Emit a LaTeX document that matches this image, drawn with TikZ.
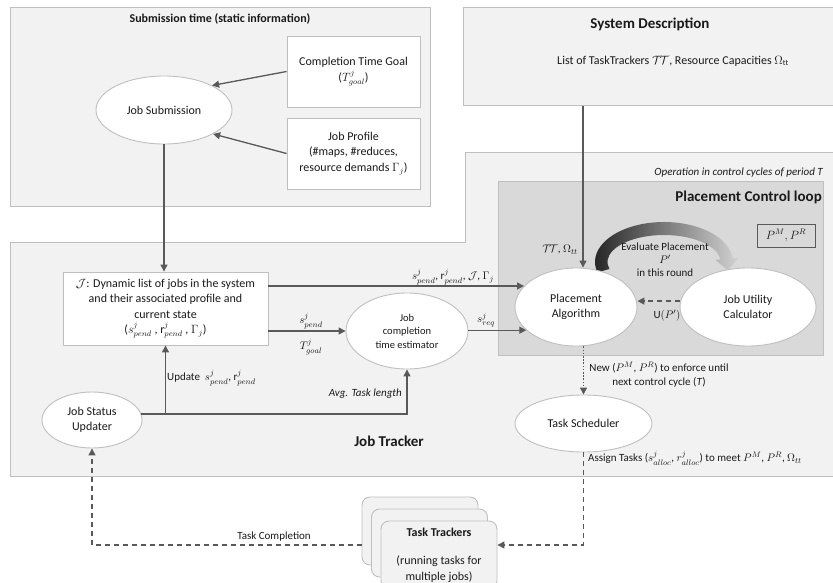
\documentclass[tikz,border=0pt]{standalone}
\usepackage{fontspec}
\setmainfont{Carlito}
\usetikzlibrary{arrows.meta,shapes.geometric,calc}
\definecolor{regfill}{HTML}{F2F2F2}
\definecolor{regline}{HTML}{BFBFBF}
\definecolor{loopfill}{HTML}{D9D9D9}
\definecolor{arrcol}{HTML}{595959}
\definecolor{txt}{HTML}{1A1A1A}
\newcommand\normtext{\fontsize{12}{15.5}\selectfont}
\newcommand\smalltext{\fontsize{11}{13.5}\selectfont}
\newcommand\headtext{\fontsize{15}{18}\selectfont\bfseries}
\begin{document}
\begin{tikzpicture}[x=1pt,y=-1pt,
  region/.style={fill=regfill, draw=regline, line width=1pt},
  ell/.style={ellipse, fill=white, draw=regline, line width=0.9pt, inner sep=0pt, align=center, font=\normtext, text=txt},
  wbox/.style={rectangle, fill=white, draw=regline, line width=0.9pt, inner sep=0pt, align=center, font=\normtext, text=txt},
  ttbox/.style={rectangle, rounded corners=8pt, fill=regfill, draw=regline, line width=0.9pt, minimum width=116pt, minimum height=68pt, inner sep=0pt},
  arr/.style={draw=arrcol, line width=1.3pt, -{Triangle[length=7pt,width=7pt]}},
  dashedarr/.style={arr, dash pattern=on 5pt off 4pt},
  dottedarr/.style={arr, dash pattern=on 1.6pt off 1.6pt},
  lbl/.style={inner sep=0pt, font=\smalltext, text=txt, align=center},
  nlbl/.style={inner sep=0pt, font=\normtext, text=txt, align=center},
  head/.style={inner sep=0pt, font=\headtext, text=txt}]
\clip (0,0) rectangle (833,583);
\fill[white] (0,0) rectangle (833,583);

% regions
\draw[region] (10,8) rectangle (430,206);
\draw[region] (463,8) rectangle (845,106);
\draw[region] (10,242) -- (465,242) -- (465,153) -- (845,153) -- (845,476) -- (10,476) -- cycle;
\draw[fill=loopfill, draw=regline, line width=1pt] (498,182) rectangle (823,355);

% curved gradient arrow
\shade[left color=black!88, right color=black!18]
  (597.35,272.35) arc[start angle=165, end angle=355, x radius=69, y radius=40]
  -- (737.9,258.3) -- (728,270.5) -- (715.3,259.8) -- (720.28,259.65)
  arc[start angle=355, end angle=165, x radius=56.5, y radius=27] -- cycle;

% nodes
\node[ell, minimum width=136pt, minimum height=68pt] (JS) at (164,110) {Job Submission};
\node[wbox, minimum width=133pt, minimum height=71pt] (CTG) at (353.5,71.5) {Completion Time Goal\\($T^j_{goal}$)};
\node[wbox, minimum width=133pt, minimum height=71pt] (JP) at (353.5,153.5) {Job Profile\\(\#maps, \#reduces,\\resource demands $\Gamma_j$)};
\node[wbox, minimum width=205pt, minimum height=73pt] (JB) at (165.5,308.5)
  {$\mathcal{J}$: Dynamic list of jobs in the system\\and their associated profile and\\current state\\($s^j_{pend}$ , $\mathrm{r}^j_{pend}$ , $\Gamma_j$)};
\node[ell, minimum width=122pt, minimum height=76pt, font=\fontsize{10.5}{13.5}\selectfont] (EST) at (407,331) {Job\\completion\\time estimator};
\node[ell, minimum width=100pt, minimum height=56pt] (JSU) at (92,420) {Job Status\\Updater};
\node[ell, minimum width=122pt, minimum height=78pt] (PA) at (576,307) {Placement\\Algorithm};
\node[ell, minimum width=136pt, minimum height=78pt] (JUC) at (748,307) {Job Utility\\Calculator};
\node[ell, minimum width=137pt, minimum height=57pt] (TS) at (583.5,423.5) {Task Scheduler};
\node[rectangle, draw=arrcol, line width=0.9pt, minimum width=58pt, minimum height=23pt, inner sep=0pt, text=txt, font=\normtext] (PM) at (786,235.5) {$P^M, P^R$};
\node[ttbox] (TT1) at (420,531) {};
\node[ttbox] (TT2) at (429.5,543) {};
\node[ttbox, align=center, font=\normtext, text=txt] (TT3) at (439,555) {\textbf{Task Trackers}\\[13pt](running tasks for\\multiple jobs)};

% titles
\node[nlbl, font=\normtext\bfseries] (subtitle) at (220,19) {Submission time (static information)};
\node[head] (sdtitle) at (650,24) {System Description};
\node[nlbl] (sdtext) at (673,61) {List of TaskTrackers $\mathcal{T\!T}$, Resource Capacities $\Omega_{\mathrm{tt}}$};
\node[lbl, anchor=east, font=\smalltext\itshape] (optext) at (823,173) {Operation in control cycles of period T};
\node[head, anchor=east] (pcltitle) at (822,197) {Placement Control loop};
\node[head] (jttitle) at (389,441) {Job Tracker};

% connectors
\coordinate (sdout) at (583,106);
\coordinate (tcy) at (0,545);
\draw[arr] (CTG.west) -- (JS.27);
\draw[arr] (JP.west) -- (JS.-26);
\draw[arr] (JS.south) -- (JS.south |- JB.north);
\draw[arr] (sdout) -- (sdout |- PA.north);
\draw[arr] (JB.east |- PA.158) -- (PA.158);
\draw[arr] (JB.east |- EST.west) -- (EST.west);
\draw[arr] (EST.east |- PA.205) -- (PA.205);
\draw[dashedarr] (JUC.175) -- (JUC.175 -| PA.east);
\draw[arr] (JSU.7) -| (EST.south);
\draw[arr] (JB.south |- JSU.7) -- (JB.south);
\draw[dottedarr] (TS.north |- PA.south) -- (TS.north);
\draw[dashedarr] (TS.south) |- (TT3.east |- tcy);
\draw[dashedarr] (TT1.west |- tcy) -| (JSU.south);

% labels
\node[lbl] (lblJ) at (453,277) {$s^j_{pend}$, $\mathrm{r}^j_{pend}$, $\mathcal{J}$, $\Gamma_j$};
\node[lbl] (lblsp) at (311,321) {$s^j_{pend}$};
\node[lbl] (lbltg) at (311,347) {$T^j_{goal}$};
\node[lbl] (lblsr) at (486,320) {$s^j_{req}$};
\node[lbl, anchor=west] (lblupd) at (167,378) {Update\ \ $s^j_{pend}$, $\mathrm{r}^j_{pend}$};
\node[lbl, anchor=east, font=\smalltext\itshape] (lblavg) at (402,394) {Avg. Task length};
\node[lbl] (lbltt) at (560,250) {$\mathcal{T\!T}$, $\Omega_{tt}$};
\node[lbl, font=\fontsize{11}{13}\selectfont] (lbleval) at (665,260) {Evaluate Placement\\$P'$\\in this round};
\node[lbl] (lblu) at (667,316) {$\mathrm{U}(P')$};
\node[lbl, font=\fontsize{11}{14}\selectfont] (lblnew) at (659,375) {New ($P^M$, $P^R$) to enforce until\\next control cycle (\textit{T})};
\node[lbl, anchor=west] (lblassign) at (588,458) {Assign Tasks ($s^j_{alloc}$, $r^j_{alloc}$) to meet $P^M$, $P^R$, $\Omega_{tt}$};
\node[lbl] (lbltc) at (274,537) {Task Completion};
\end{tikzpicture}
\end{document}
